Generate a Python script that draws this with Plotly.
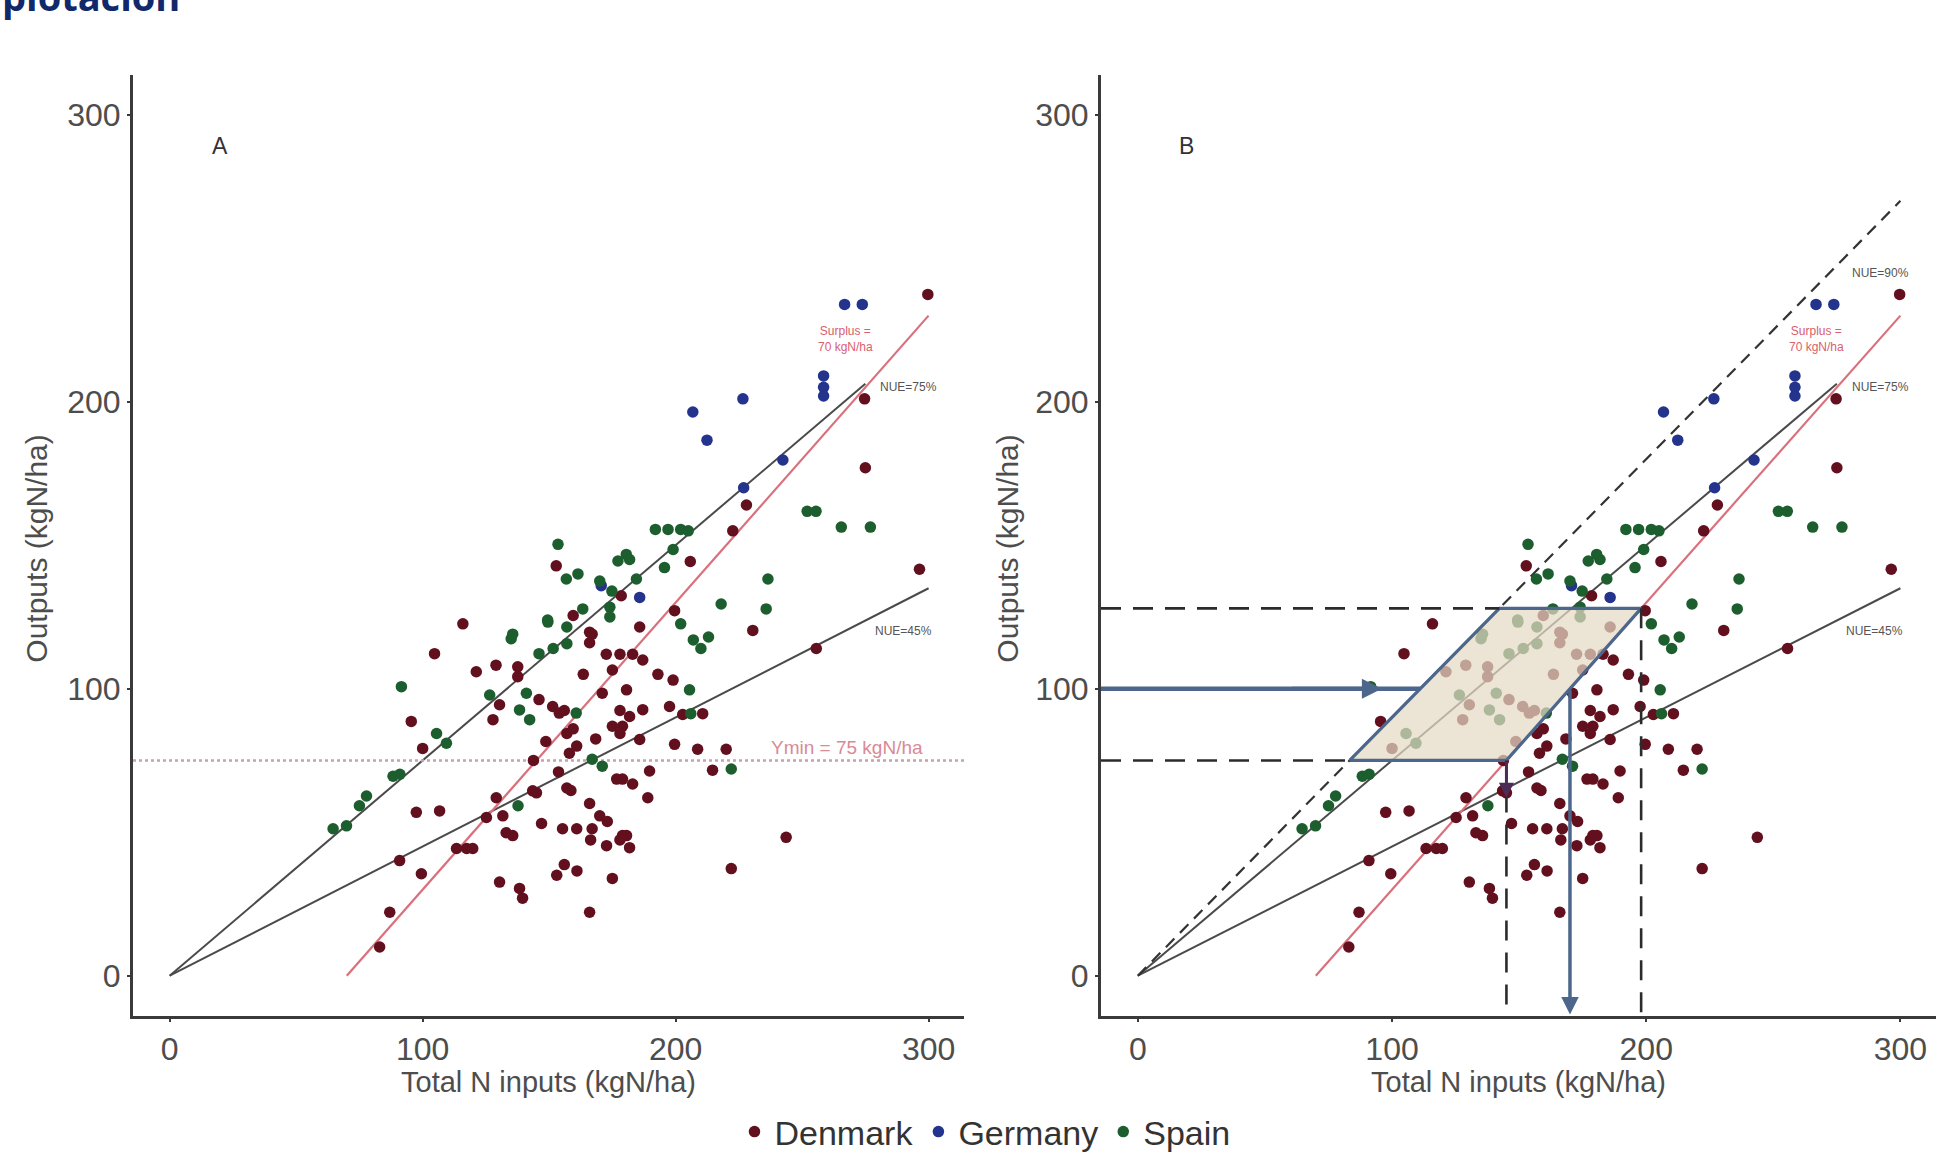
import plotly.graph_objects as go

# ---------------- data ----------------
denmark_x = [299.7, 274.7, 275, 228, 222.6, 296.4, 178.5, 255.6, 210.7, 185.8, 199.6, 214.6, 189.7, 243.7, 222,
             115.9, 104.7, 95.5, 97.5, 106.7, 90.9, 99.5, 166, 175, 87, 83, 152.8,
             205.8, 199.6, 185.8, 230.5, 187, 183, 197.6, 202.8, 181.8, 187, 179, 208.7, 220, 183, 179, 189,
             180.6, 181.8, 121.2, 129, 137.6, 137.6, 130.4, 127.8, 146, 151.4, 154, 167, 172.6, 175, 171,
             180.6, 157, 160.9, 158, 175, 178, 176.7, 157, 100, 129.1, 125.2, 131.7, 135.6, 133, 113.4,
             117.4, 119.8, 130.4, 138.3, 139.5, 145, 143.5, 153, 167, 170, 155.3, 160.9, 172.7, 179, 166,
             159.5, 166, 178, 163.5, 178, 156, 159.5, 168.4, 148.7, 143.8, 153.7, 158.6, 166, 173, 178,
             193, 199, 156, 161, 166.4, 147]
denmark_y = [237.4, 201, 177, 164, 155, 141.6, 132.4, 114, 91.3, 82.3, 80.6, 71.6, 71.3, 48.2, 37.3,
             122.6, 112.2, 88.6, 56.9, 57.4, 40.1, 35.5, 22.1, 33.9, 22.1, 10, 142.8,
             144.3, 127.2, 121.5, 120.3, 110, 112, 93.8, 91, 90.3, 92.7, 86.9, 78.9, 78.9, 66.8, 68.5, 62,
             48.8, 44.6, 105.9, 108.2, 107.6, 104.2, 94.4, 89.2, 96.2, 93.8, 91.5, 119, 112, 106.5, 98.4,
             99.6, 84.4, 80, 77.5, 86.9, 84.4, 68.5, 65.4, 79.2, 62, 55.1, 55.7, 48.8, 49.8, 44.3,
             44.3, 44.3, 32.6, 30.4, 27, 63.7, 64.4, 35, 51.2, 55.7, 51.2, 51.2, 45.3, 48.8, 119.7,
             125.5, 116, 112, 105, 92.4, 92.4, 86, 82.5, 81.6, 75, 71, 64.5, 60, 53.7, 47.3,
             105, 103, 38.7, 36.5, 47.3, 53]

germany_x = [266.8, 273.8, 258.5, 258.5, 258.5, 226.6, 206.8, 212.4, 242.4, 226.9, 170.6, 185.8]
germany_y = [233.9, 233.9, 209, 205, 202, 201, 196.4, 186.6, 179.7, 170, 135.9, 131.8]

spain_x = [252, 255.5, 265.5, 277, 192, 197, 202, 205, 199, 181.8, 195.6, 184.5, 236.5, 218, 235.8, 202,
           213, 210, 207, 205.5, 206, 222,
           91.6, 149.5, 135, 146, 151.6, 157, 126.5, 141, 138.3, 142.3, 160.7, 167, 171, 105.5, 109.4,
           88.3, 91, 77.8, 75, 64.6, 69.9, 137.7,
           161.4, 156.8, 177.2, 180.5, 163.3, 174, 174, 149.4, 157, 135.6, 153.5, 170, 174.8]
spain_y = [161.8, 161.8, 156.3, 156.3, 155.5, 155.5, 155.5, 155, 148.5, 145, 142.2, 138.2, 138.2, 129.5, 127.8, 122.6,
           118, 114, 117, 99.6, 91.3, 72,
           100.7, 123.2, 117.4, 112.2, 114, 115.7, 97.8, 98.4, 92.6, 89.2, 91.5, 75.4, 73, 84.4, 81,
           69.5, 70.2, 62.6, 59.2, 51.2, 52.2, 59.2,
           140, 138.2, 144.5, 146.8, 127.8, 128.4, 125, 123.9, 121.5, 119, 150.3, 137.5, 134]

# reference lines
nue_slopes = [0.75, 0.45]
nue_ends = [275, 300]
nue90_slope = 0.9
surplus = 70
ymin = 75
ymax_target = 128
target_output = 100
tick_vals = [0, 100, 200, 300]
x_range = [-14.5, 314]
y_range = [-14, 314]

# ---------------- figure ----------------
W, H = 1947, 1161
col_dk, col_de, col_es = "#620f1e", "#24338c", "#1d5e2e"
line_gray = "#4a4a4a"
red_line = "#d9707c"
blue_edge = "#4d678c"
font_fam = "Liberation Sans, Arial, sans-serif"

fig = go.Figure()

def add_points(xa, ya, show):
    for name, xs, ys, c in [("Denmark", denmark_x, denmark_y, col_dk),
                            ("Germany", germany_x, germany_y, col_de),
                            ("Spain", spain_x, spain_y, col_es)]:
        fig.add_trace(go.Scatter(x=xs, y=ys, mode="markers", name=name, xaxis=xa, yaxis=ya,
                                 marker=dict(color=c, size=11.5, line=dict(width=0)),
                                 showlegend=show, legendgroup=name))

def add_lines(xa, ya):
    for s, e in zip(nue_slopes, nue_ends):
        fig.add_trace(go.Scatter(x=[0, e], y=[0, s * e], mode="lines", xaxis=xa, yaxis=ya,
                                 line=dict(color=line_gray, width=2), showlegend=False, hoverinfo="skip"))
    fig.add_trace(go.Scatter(x=[surplus, 300], y=[0, 300 - surplus], mode="lines", xaxis=xa, yaxis=ya,
                             line=dict(color=red_line, width=2.2), showlegend=False, hoverinfo="skip"))

# ----- panel A -----
add_lines("x", "y")
fig.add_trace(go.Scatter(x=x_range, y=[ymin, ymin], mode="lines", xaxis="x", yaxis="y",
                         line=dict(color="#c4a3aa", width=2.5, dash="dot"), showlegend=False, hoverinfo="skip"))
add_points("x", "y", True)

# ----- panel B -----
add_lines("x2", "y2")
fig.add_trace(go.Scatter(x=[0, 300], y=[0, nue90_slope * 300], mode="lines", xaxis="x2", yaxis="y2",
                         line=dict(color="#333333", width=2.2, dash="12px,8px"), showlegend=False, hoverinfo="skip"))
add_points("x2", "y2", False)

x_tl = ymax_target / nue90_slope
x_bl = ymin / nue90_slope
x_tr = ymax_target + surplus
x_br = ymin + surplus
fig.add_trace(go.Scatter(x=[x_bl, x_tl, x_tr, x_br, x_bl], y=[ymin, ymax_target, ymax_target, ymin, ymin],
                         mode="lines", fill="toself", fillcolor="rgba(228,217,196,0.72)",
                         xaxis="x2", yaxis="y2", line=dict(color=blue_edge, width=3.2),
                         showlegend=False, hoverinfo="skip"))
dash_style = dict(color="#2b2b2b", width=2.6, dash="20px,12px")
for xs, ys in [([x_range[0], x_tl], [ymax_target, ymax_target]),
               ([x_range[0], x_bl], [ymin, ymin]),
               ([x_br, x_br], [ymin, y_range[0]]),
               ([x_tr, x_tr], [ymax_target, y_range[0]])]:
    fig.add_trace(go.Scatter(x=xs, y=ys, mode="lines", xaxis="x2", yaxis="y2", line=dash_style,
                             showlegend=False, hoverinfo="skip"))
x_t = target_output / nue90_slope
fig.add_trace(go.Scatter(x=[x_range[0], x_t], y=[target_output, target_output], mode="lines",
                         xaxis="x2", yaxis="y2",
                         line=dict(color=blue_edge, width=4.5), showlegend=False, hoverinfo="skip"))

# arrows
fig.add_annotation(x=96, y=target_output, ax=60, ay=target_output, xref="x2", yref="y2", axref="x2", ayref="y2",
                   showarrow=True, arrowhead=2, arrowsize=1, arrowwidth=4, arrowcolor=blue_edge, text="")
x_v = target_output + surplus
fig.add_annotation(x=x_v, y=y_range[0] + 0.5, ax=x_v, ay=target_output, xref="x2", yref="y2",
                   axref="x2", ayref="y2",
                   showarrow=True, arrowhead=2, arrowsize=1, arrowwidth=3.5, arrowcolor=blue_edge, text="")
fig.add_annotation(x=x_br, y=62, ax=x_br, ay=ymin, xref="x2", yref="y2", axref="x2", ayref="y2",
                   showarrow=True, arrowhead=2, arrowsize=1, arrowwidth=3, arrowcolor="#4a2c55", text="")

# ---------------- axes ----------------
ydom = [1 - 1022 / H, 1 - 75 / H]
ax_common = dict(tickvals=tick_vals, showgrid=False, zeroline=False,
                 showline=True, linecolor="#3a3a3a", linewidth=3, ticks="outside", ticklen=3,
                 tickwidth=2, tickcolor="#3a3a3a",
                 tickfont=dict(family=font_fam, size=32, color="#4d4d4d"))
fig.update_layout(
    xaxis=dict(domain=[133 / W, 964 / W], anchor="y", range=x_range, **ax_common),
    yaxis=dict(domain=ydom, anchor="x", range=y_range, **ax_common),
    xaxis2=dict(domain=[1101 / W, 1936 / W], anchor="y2", range=x_range, **ax_common),
    yaxis2=dict(domain=ydom, anchor="x2", range=y_range, **ax_common),
)

# ---------------- texts ----------------
def txt(x, y, s, xref, yref, size, color, xanchor="left", yanchor="middle", angle=0):
    fig.add_annotation(x=x, y=y, xref=xref, yref=yref, text=s,
                       showarrow=False, xanchor=xanchor, yanchor=yanchor, textangle=angle,
                       font=dict(family=font_fam, size=size, color=color))

for xr, yr in [("x", "y"), ("x2", "y2")]:
    txt(280, 205, "NUE=75%", xr, yr, 12, "#555555")
    txt(278, 120, "NUE=45%", xr, yr, 12, "#555555")
    txt(267, 222, "Surplus =<br>70 kgN/ha", xr, yr, 12, "#d9606e", xanchor="center")
txt(280, 245, "NUE=90%", "x2", "y2", 12, "#555555")
txt(237, 79.5, "Ymin = 75 kgN/ha", "x", "y", 19, "#d98a95")
txt(20, 289, "A", "x", "y", 23, "#333333", xanchor="center")
txt(19, 289, "B", "x2", "y2", 23, "#333333", xanchor="center")

# axis titles
for cx in [(133 + 964) / 2 / W, (1101 + 1936) / 2 / W]:
    txt(cx, 1 - 1089 / H, "Total N inputs (kgN/ha)", "paper", "paper", 29, "#4d4d4d", xanchor="center")
for cx in [37 / W, 1008 / W]:
    txt(cx, 1 - 552 / H, "Outputs (kgN/ha)", "paper", "paper", 30, "#4d4d4d", xanchor="center", angle=-90)

# clipped page heading
fig.add_annotation(x=0, y=1 - 24 / H, xref="paper", yref="paper", text="<b>plotación</b>", showarrow=False,
                   xanchor="left", yanchor="bottom",
                   font=dict(family="Open Sans, sans-serif", size=38, color="#11296b"))

fig.update_layout(
    width=W, height=H, margin=dict(l=0, r=0, t=0, b=0),
    paper_bgcolor="white", plot_bgcolor="white",
    legend=dict(orientation="h", x=985 / W, xanchor="center", y=1 - 1139 / H, yanchor="middle",
                font=dict(family=font_fam, size=34, color="#333333"), itemwidth=30,
                tracegroupgap=0),
)

fig.write_html("out.html")
